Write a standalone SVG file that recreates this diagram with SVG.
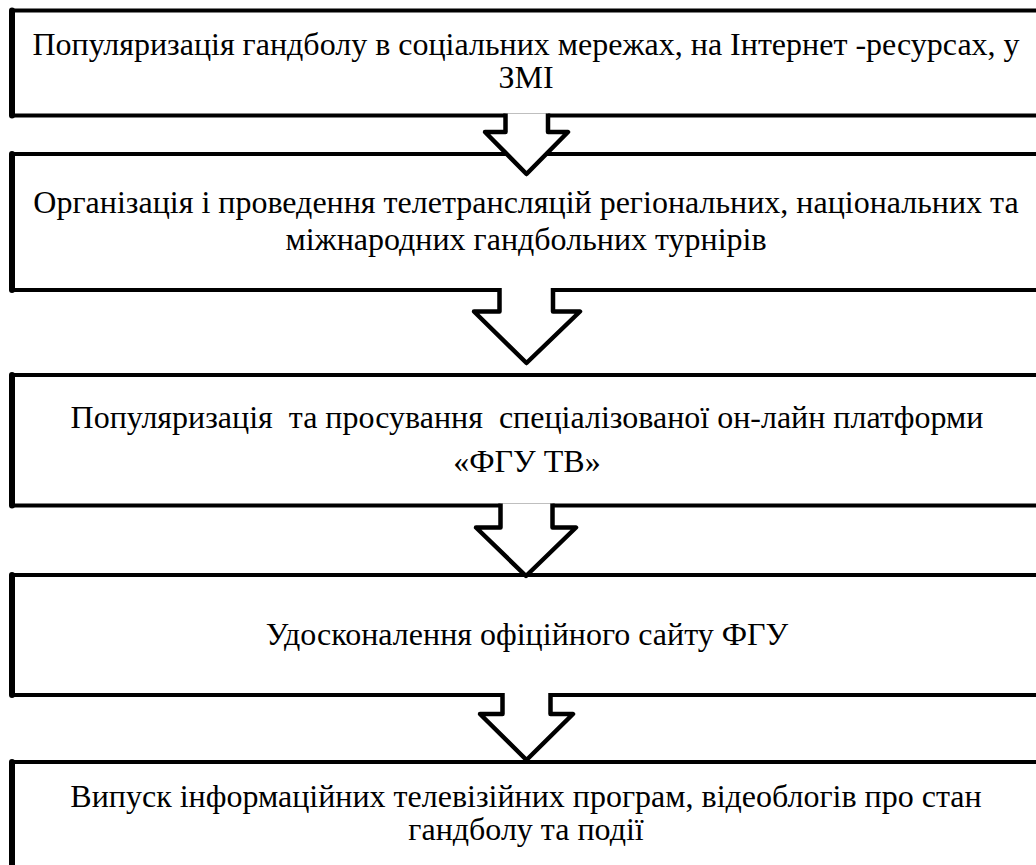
<svg xmlns="http://www.w3.org/2000/svg" width="1036" height="865" viewBox="0 0 1036 865" font-family="Liberation Serif, Times New Roman, serif">
<style>
.box{fill:#fff;stroke:#000;stroke-width:4;stroke-linejoin:round}
.edge{fill:none;stroke:#000;stroke-width:6;stroke-linecap:round}
.arr{fill:#fff;stroke:#000;stroke-width:4.5;stroke-linejoin:round;stroke-linecap:butt}
.t{font-size:32px;fill:#000;text-anchor:middle;white-space:pre}
</style>
<rect width="1036" height="865" fill="#fff"/>
<g id="node1">
<rect class="box" x="12" y="10.5" width="1040" height="105"/>
<line class="edge" x1="12" y1="10.5" x2="12" y2="115.5"/>
<text class="t" x="526" y="55">Популяризація гандболу в соціальних мережах, на Інтернет -ресурсах, у</text>
<text class="t" x="526" y="88">ЗМІ</text>
</g>
<g id="node2">
<rect class="box" x="12" y="154" width="1040" height="136"/>
<line class="edge" x1="12" y1="154" x2="12" y2="290"/>
<text class="t" x="526" y="213">Організація і проведення телетрансляцій регіональних, національних та</text>
<text class="t" x="526" y="250">міжнародних гандбольних турнірів</text>
</g>
<g id="node3">
<rect class="box" x="12" y="375" width="1040" height="130.5"/>
<line class="edge" x1="12" y1="375" x2="12" y2="505.5"/>
<text class="t" x="527" y="428" xml:space="preserve">Популяризація  та просування  спеціалізованої он-лайн платформи</text>
<text class="t" x="527" y="472">«ФГУ ТВ»</text>
</g>
<g id="node4">
<rect class="box" x="12" y="575" width="1040" height="120"/>
<line class="edge" x1="12" y1="575" x2="12" y2="695"/>
<text class="t" x="527" y="645">Удосконалення офіційного сайту ФГУ</text>
</g>
<g id="node5">
<rect class="box" x="12" y="762" width="1040" height="140"/>
<line class="edge" x1="12" y1="762" x2="12" y2="870"/>
<text class="t" x="526" y="807">Випуск інформаційних телевізійних програм, відеоблогів про стан</text>
<text class="t" x="526" y="840">гандболу та події</text>
</g>
<g id="connectors">
<path class="arr" d="M505.5,113.5 V132 H485 L526.5,174 L568,132 H548 V113.5"/>
<path class="arr" d="M499.5,288 V311.5 H474 L526.5,363 L580,311.5 H553 V288"/>
<path class="arr" d="M500.5,503.5 V527.5 H476 L526,576 L576,527.5 H552.5 V503.5"/>
<path class="arr" d="M502.5,693 V714 H480 L526.5,760 L573,714 H550.5 V693"/>
</g>
</svg>
